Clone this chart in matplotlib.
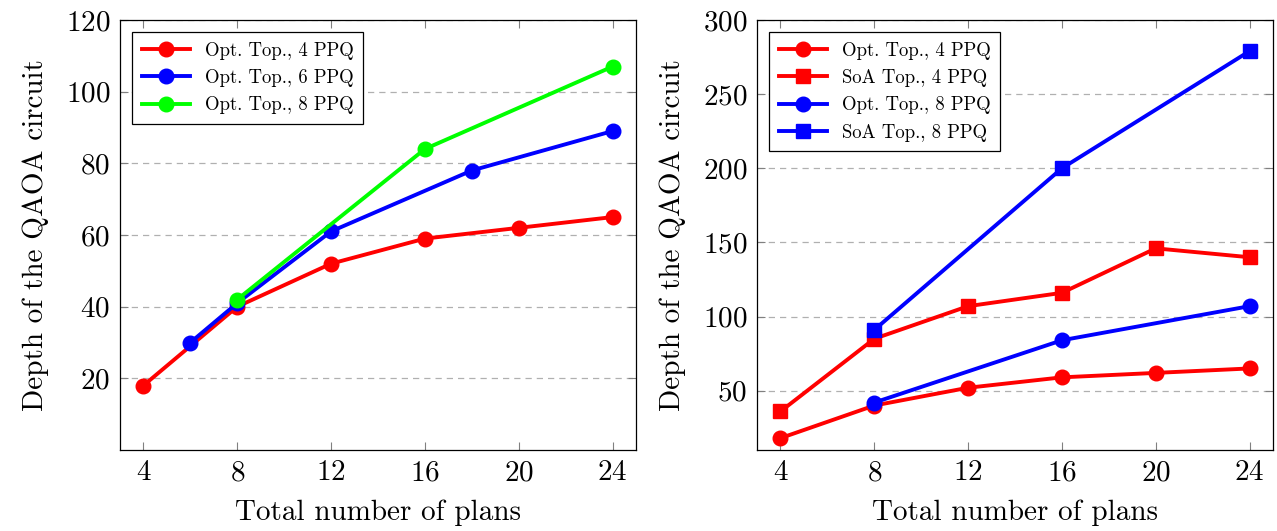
import matplotlib
matplotlib.use('Agg')
from matplotlib import pyplot as plt

# left panel: Opt. topology with different PPQ
x_4ppq = [4, 8, 12, 16, 20, 24]
opt_4ppq = [18, 40, 52, 59, 62, 65]
x_6ppq = [6, 8, 12, 18, 24]
opt_6ppq = [30, 41, 61, 78, 89]
x_8ppq = [8, 16, 24]
opt_8ppq = [42, 84, 107]

# right panel: Opt. vs SoA topology
soa_4ppq = [36, 85, 107, 116, 146, 140]
soa_8ppq = [91, 200, 279]

plt.rcParams['font.family'] = 'serif'
plt.rcParams['font.serif'] = ['cmr10', 'DejaVu Serif']
plt.rcParams['mathtext.fontset'] = 'cm'
plt.rcParams['axes.formatter.use_mathtext'] = True

fig = plt.figure(figsize=(12.77, 5.31), dpi=100)
ax1 = fig.add_axes([120/1277, 81/531, 516/1277, 430/531])
ax2 = fig.add_axes([757/1277, 81/531, 516/1277, 430/531])

lw = 2.8
ms = 10.5
ax1.plot(x_4ppq, opt_4ppq, color='#ff0000', lw=lw, marker='o', ms=ms, label='Opt. Top., 4 PPQ')
ax1.plot(x_6ppq, opt_6ppq, color='#0000ff', lw=lw, marker='o', ms=ms, label='Opt. Top., 6 PPQ')
ax1.plot(x_8ppq, opt_8ppq, color='#00ff00', lw=lw, marker='o', ms=ms, label='Opt. Top., 8 PPQ')
ax1.set_ylim(0, 120)
ax1.set_yticks([20, 40, 60, 80, 100, 120])

ax2.plot(x_4ppq, opt_4ppq, color='#ff0000', lw=lw, marker='o', ms=ms, label='Opt. Top., 4 PPQ')
ax2.plot(x_4ppq, soa_4ppq, color='#ff0000', lw=lw, marker='s', ms=ms, label='SoA Top., 4 PPQ')
ax2.plot(x_8ppq, opt_8ppq, color='#0000ff', lw=lw, marker='o', ms=ms, label='Opt. Top., 8 PPQ')
ax2.plot(x_8ppq, soa_8ppq, color='#0000ff', lw=lw, marker='s', ms=ms, label='SoA Top., 8 PPQ')
ax2.set_ylim(10, 300)
ax2.set_yticks([50, 100, 150, 200, 250, 300])

for ax in (ax1, ax2):
    ax.set_xlim(3, 25)
    ax.set_xticks([4, 8, 12, 16, 20, 24])
    ax.grid(axis='y', color='#b0b0b0', ls=(0, (5, 4)), lw=0.9)
    ax.set_axisbelow(True)
    ax.tick_params(direction='in', top=True, right=True, length=6, color='#808080',
                   labelsize=21, pad=7)
    for s in ax.spines.values():
        s.set_linewidth(0.9)
    ax.set_xlabel('Total number of plans', fontsize=21, labelpad=10)
    ax.set_ylabel('Depth of the QAOA circuit', fontsize=21, labelpad=12)
    leg = ax.legend(loc='upper left', fontsize=13.5, fancybox=False, edgecolor='black',
                    framealpha=1, handlelength=2.6, borderaxespad=0.65, labelspacing=0.5,
                    borderpad=0.5)
    leg.get_frame().set_linewidth(0.9)

plt.savefig('out.png', dpi=100)
